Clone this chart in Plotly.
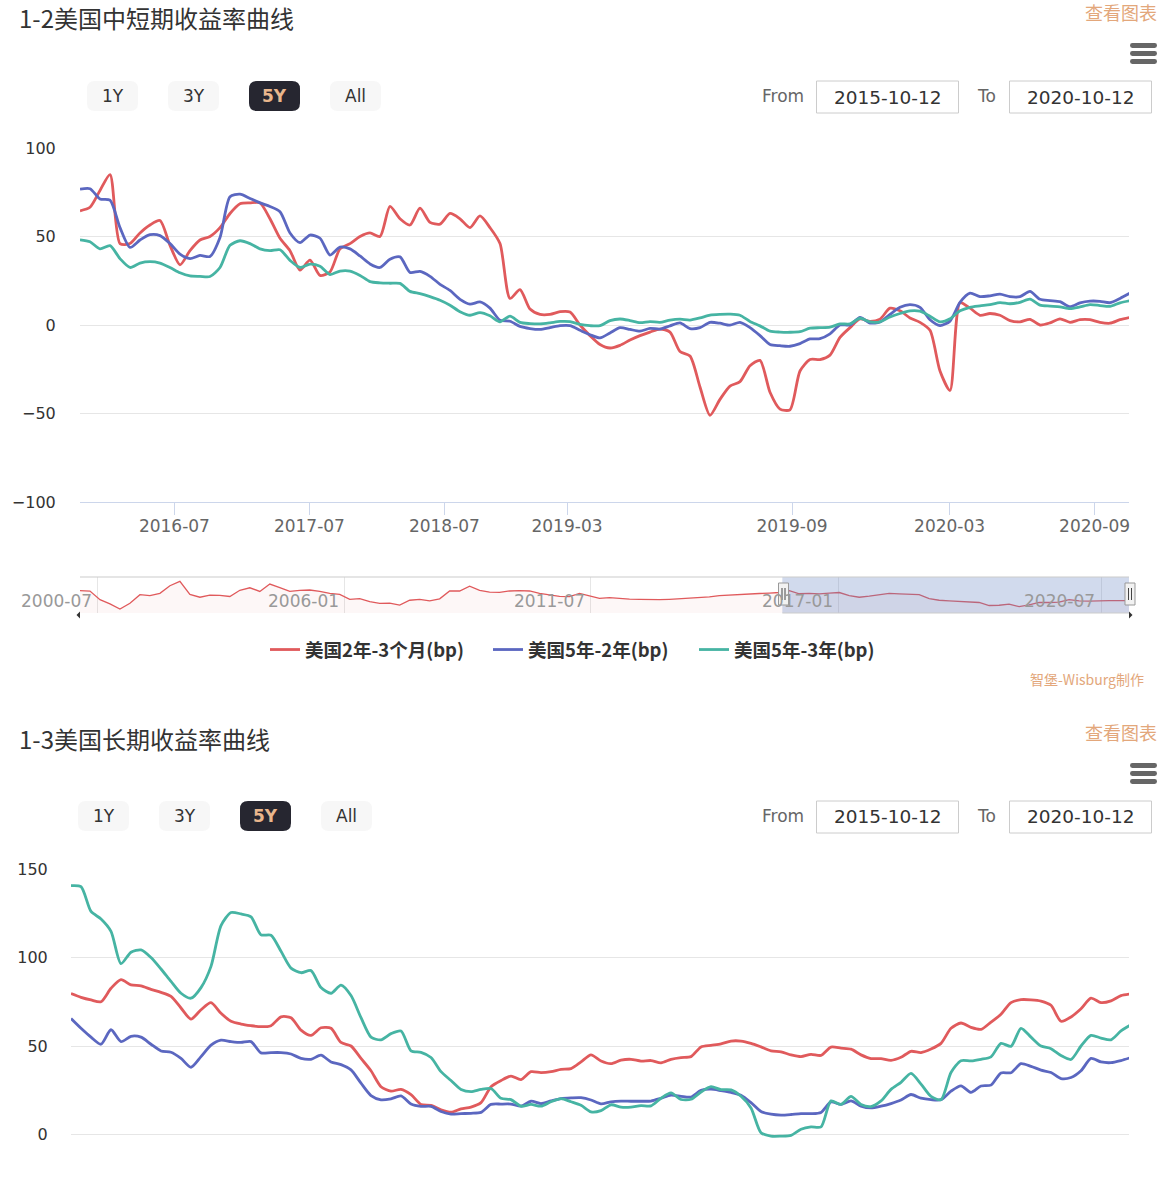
import plotly.graph_objects as go

W, H = 1164, 1177
FONT = "Noto Sans CJK SC, Noto Sans, sans-serif"
LFONT = "DejaVu Sans, Noto Sans, sans-serif"

# ---------------- data ----------------
series_names = ["美国2年-3个月(bp)", "美国5年-2年(bp)", "美国5年-3年(bp)"]
series_colors = ["#e05a5c", "#5b67c0", "#46b4a3"]

# chart 1 (ordinal samples, 2015-10-12 .. 2020-10-12)
c1_red = [64.5, 66.5, 76, 85, 46, 46, 52, 56.5, 59, 45,
          34, 42, 48, 50, 55, 63, 68.5, 69, 69, 60,
          49, 42, 31, 36.6, 28, 30, 43, 46, 50, 52,
          50, 67, 60, 56.5, 66, 58, 57, 63, 60, 55,
          61.6, 55, 46, 15, 20, 9, 6, 6, 7.5, 7.3,
          0, -6, -11, -13, -11.5, -8.5, -6, -4, -2.3, -4,
          -15, -17.5, -35, -51, -42, -34.5, -32, -23, -20, -38,
          -47.5, -47.9, -26, -19.5, -19.5, -17, -7, -1.5, 3.4, 2,
          3.3, 9.5, 8, 4, 1.5, -3, -26, -37, 12.6, 9.5,
          5.5, 6.5, 5.5, 2.5, 1.8, 3.2, 0, 1.2, 3.5, 1.5,
          3, 3, 1.5, 1, 3, 4.3]
c1_blue = [76.7, 77, 71.2, 70.5, 55, 43.8, 48, 51, 50.5, 46,
           40, 37.5, 39.3, 38.7, 49.4, 72.5, 73.9, 71.5, 69, 67,
           64, 52, 46.5, 50.8, 49, 39.5, 44, 43, 39, 34.5,
           32.5, 37.2, 38.5, 29.7, 30.3, 27.5, 23, 19.5, 14.5, 11.8,
           13, 9.5, 2.7, 2.1, -0.8, -2, -2.5, -1.5, -0.4, -0.4,
           -3, -5.5, -7.3, -4.5, -1.5, -2.5, -3.5, -1.9, -2.3, -0.5,
           1.2, -2, -1.5, 1.5, 1, -0.1, 1.5, -1.5, -6, -11,
           -11.7, -12, -10.5, -7.9, -7.7, -5, 0, 0, 4.3, 1.1,
           1.7, 6, 10, 11.5, 10, 3, -0.3, 2.2, 12.8, 18,
           16, 16.5, 17.4, 16, 16, 19, 14.5, 13.8, 13.2, 10.3,
           12.5, 13.5, 13.4, 12.6, 15, 18]
c1_teal = [48.1, 47, 43, 44.8, 37.5, 32.5, 35, 35.8, 35, 32.5,
           29.5, 27.7, 27.5, 27.4, 32.5, 45, 47.6, 46, 43, 42,
           42.5, 36.5, 32.5, 34.4, 33.2, 28.5, 30.5, 30.5, 28, 24.5,
           23.8, 23.6, 23.5, 19, 17.7, 16, 14, 11.2, 7.5, 5.5,
           7, 5.2, 1.8, 5, 1.5, 0.8, 0.6, 1.2, 2, 1.9,
           0.3, -0.4, -0.4, 2.5, 3.4, 2.5, 1.3, 1.9, 1.5, 2.8,
           3.3, 2.8, 4, 5.6, 6, 6.1, 5.5, 2, -0.5, -3.5,
           -4, -4.1, -3.8, -1.8, -1.5, -1.2, 0.6, 0.6, 3.8, 1.7,
           1.8, 4.5, 6.5, 8, 7.8, 5, 1.8, 3.5, 8, 10,
           10.8, 11.5, 12.6, 12, 12.8, 14.6, 11.2, 10.7, 10.3, 9.2,
           10.2, 11.5, 11, 10.5, 12.5, 13.7]
c1_tick_idx = [9.44, 22.94, 36.44, 48.7, 71.2, 86.96, 101.46]
c1_tick_text = ["2016-07", "2017-07", "2018-07", "2019-03", "2019-09", "2020-03", "2020-09"]
c1_yticks = [-100, -50, 0, 50, 100]

# navigator (full history of 美国2年-3个月)
nav_red = [77, 74, 12, -18, -55, -14, 48, 42, 58, 113,
           145, 50, 30, 45, 43, 35, 80, 98, 72, 125,
           100, 72, 80, 82, 72, 58, 50, 14, 20, -2,
           -14, -12, -27, 8, 15, 3, 18, 75, 75, 110,
           80, 67, 65, 75, 77, 75, 57, 44, 36, 34,
           57, 40, 22, 27, 19, 16, 14, 11, 12, 15,
           18, 22, 27, 32, 42, 47, 51, 54, 57, 60,
           64, 77, 55, 58, 54, 60, 64, 42, 30, 38,
           47, 58, 54, 50, 48, 20, 8, 3, -2, -6,
           -8, -30, -28, -20, -38, -25, -8, -8, -5, 12,
           3, 2, 5, 5, 5, 5]
nav_tick_idx = [1.8, 26.5, 51.1, 75.95, 102.2]
nav_tick_text = ["2000-07", "2006-01", "2011-07", "2017-01", "2020-07"]
nav_range = [-84, 176]
nav_selected = [70.3, 105]

# chart 2
c2_red = [79.6, 77.5, 76, 75, 82.6, 87.5, 84.5, 84, 82, 80.3,
          78, 71.5, 65.2, 70.5, 74.5, 68.5, 64, 62.4, 61.5, 60.9,
          61.5, 66.5, 66, 59, 56, 60.3, 60, 52, 50, 43,
          36, 27, 24.5, 25.5, 22.5, 17, 16.5, 14, 12.6, 14.5,
          15.5, 18, 27, 30.5, 33, 31, 35.5, 35, 35.5, 36.8,
          37.2, 41, 45, 41.5, 40, 42, 42.5, 41.5, 41.8, 40.5,
          42.5, 43.5, 44, 49.5, 50.4, 51.2, 52.8, 52.8, 51.5, 49.5,
          47.3, 46.7, 45, 44, 45.3, 44.7, 49.4, 48.8, 48.2, 45,
          42.9, 42.9, 41.9, 43.6, 47, 46.3, 48.3, 51.5, 60, 63,
          60.5, 59.4, 63.5, 68, 74.5, 76.2, 76.1, 75.4, 73, 64,
          66.4, 71, 77, 74.5, 75.5, 78.5, 79.5]
c2_blue = [65.5, 60, 55, 51, 59.2, 52.5, 55.5, 55, 51, 47.2,
           46.5, 43, 38, 44, 50.5, 53.3, 52.5, 52, 52.5, 46.1,
           46.3, 46.3, 45.5, 43, 42.5, 44.8, 41, 39.5, 36.5, 29,
           22, 19.6, 20.2, 21.8, 17.2, 15.9, 15.9, 13, 11.5, 11.8,
           12, 12.5, 17, 17.2, 17.2, 16, 18.8, 17.5, 19, 20.3,
           20.7, 20.8, 19.5, 17.3, 18.5, 18.9, 18.8, 18.8, 18.9, 20.5,
           22.2, 21.6, 21.2, 25, 25.6, 24.8, 23.8, 22.2, 18, 13,
           11.5, 11, 11.3, 11.8, 11.8, 12.5, 18.4, 17, 19, 16,
           15, 16, 17.5, 19.5, 22.6, 20.5, 19.7, 19.7, 24.5, 27.5,
           23.8, 27.4, 27.9, 34.8, 34.9, 40, 38.5, 36.4, 35, 31.6,
           32.2, 36, 43, 41, 40.6, 41.8, 43.5]
c2_teal = [140.6, 140, 126, 121.8, 114.8, 96.5, 103, 104.3, 100, 93.5,
           86.5, 79.8, 77, 83, 95, 118, 125.4, 124.6, 123, 112.8,
           112.6, 103.5, 94, 91.4, 92.6, 83, 79.8, 84.4, 78.5, 66,
           55, 53.5, 57, 58.5, 47.3, 46.4, 43.5, 35.5, 30.5, 25.5,
           24.2, 25.5, 26, 20.5, 19.7, 16, 17, 16, 18.5, 20.3,
           18.5, 16.5, 12.8, 13.5, 16.8, 15.5, 15.5, 16.3, 16.2, 20.5,
           23.5, 19.8, 19.9, 24, 27, 25.4, 25.2, 21.6, 15, 1,
           -0.9, -0.9, -0.5, 3, 4.3, 4.3, 19, 17, 21.5, 17,
           15.8, 19, 25.5, 29.5, 34.5, 28.5, 21.5, 19.7, 35, 41.7,
           41.6, 42.5, 43.9, 51.5, 49.8, 60, 55, 50, 48.5, 44.6,
           42.4, 50, 56, 54.5, 53.5, 58.5, 62]
c2_yticks = [0, 50, 100, 150]

range_buttons = ["1Y", "3Y", "5Y", "All"]
selected_button = "5Y"
date_from, date_to = "2015-10-12", "2020-10-12"
titles = ["1-2美国中短期收益率曲线", "1-3美国长期收益率曲线"]
link_text = "查看图表"
credit_text = "智堡-Wisburg制作"

# ---------------- helpers ----------------
def PX(x):
    return x / W


def PY(y):
    return 1 - y / H


def rrect(x0, y0, x1, y1, r):
    X, Y = PX, PY
    return (f"M {X(x0+r)},{Y(y0)} L {X(x1-r)},{Y(y0)} Q {X(x1)},{Y(y0)} {X(x1)},{Y(y0+r)} "
            f"L {X(x1)},{Y(y1-r)} Q {X(x1)},{Y(y1)} {X(x1-r)},{Y(y1)} L {X(x0+r)},{Y(y1)} "
            f"Q {X(x0)},{Y(y1)} {X(x0)},{Y(y1-r)} L {X(x0)},{Y(y0+r)} Q {X(x0)},{Y(y0)} {X(x0+r)},{Y(y0)} Z")


shapes = []
annotations = []


def text(x, y, s, size=17, color="#333333", xanchor="center", weight="normal", family=FONT):
    annotations.append(dict(x=PX(x), y=PY(y), xref="paper", yref="paper",
                            text=s, showarrow=False, xanchor=xanchor, yanchor="middle",
                            borderpad=0,
                            font=dict(family=family, size=size, color=color, weight=weight)))


def header(off, btn_x0, title):
    text(17.5, 18 + off, title, size=24, color="#333333", xanchor="left")
    text(1158, 12 + off, link_text, size=18, color="#e3a77b", xanchor="right")
    for cy in (45.5, 53.5, 61.5):
        shapes.append(dict(type="path", xref="paper", yref="paper",
                           path=rrect(1130, cy - 2.4 + off, 1157, cy + 2.4 + off, 2.3),
                           fillcolor="#666666", line=dict(width=0)))
    for i, lbl in enumerate(range_buttons):
        x0 = btn_x0 + i * 81
        sel = lbl == selected_button
        shapes.append(dict(type="path", xref="paper", yref="paper",
                           path=rrect(x0, 81 + off, x0 + 51, 111 + off, 8),
                           fillcolor="#262630" if sel else "#f7f7f7", line=dict(width=0)))
        text(x0 + 25.5, 96 + off, lbl, size=17, family=LFONT,
             color="#e9b68c" if sel else "#333333", weight="bold" if sel else "normal")
    text(783, 96 + off, "From", size=17, color="#666666", family=LFONT)
    text(986, 96 + off, "To", size=17, color="#666666", family=LFONT)
    for (bx0, bx1, s) in ((816.5, 958.5, date_from), (1009.5, 1151.5, date_to)):
        shapes.append(dict(type="rect", xref="paper", yref="paper",
                           x0=PX(bx0), x1=PX(bx1), y0=PY(113 + off), y1=PY(81 + off),
                           fillcolor="white", line=dict(color="#cccccc", width=1)))
        text((bx0 + bx1) / 2, 97 + off, s, size=18.5, color="#333333", family=LFONT)


header(0, 87, titles[0])
header(720, 78, titles[1])
text(1145, 679, credit_text, size=14, color="#e3a77b", xanchor="right")

# ---------------- traces ----------------
fig = go.Figure()
c1 = [c1_red, c1_blue, c1_teal]
c2 = [c2_red, c2_blue, c2_teal]
legend_ids = ["legend", "legend2", "legend3"]
for k in range(3):
    fig.add_trace(go.Scatter(x=list(range(len(c1[k]))), y=c1[k], name=series_names[k],
                             mode="lines", line=dict(color=series_colors[k], width=2.8,
                                                     shape="spline", smoothing=0.7),
                             xaxis="x", yaxis="y", legend=legend_ids[k], hoverinfo="skip"))
for k in range(3):
    fig.add_trace(go.Scatter(x=list(range(len(c2[k]))), y=c2[k], name=series_names[k],
                             mode="lines", line=dict(color=series_colors[k], width=2.8,
                                                     shape="spline", smoothing=0.7),
                             xaxis="x3", yaxis="y3", showlegend=False, hoverinfo="skip"))

nav_x = list(range(len(nav_red)))
fig.add_trace(go.Scatter(x=nav_x, y=[nav_range[0]] * len(nav_red), mode="lines",
                         line=dict(width=0), xaxis="x2", yaxis="y2", showlegend=False,
                         hoverinfo="skip"))
fig.add_trace(go.Scatter(x=nav_x, y=nav_red, mode="lines", fill="tonexty",
                         fillcolor="rgba(224,90,92,0.05)",
                         line=dict(color=series_colors[0], width=1.3),
                         xaxis="x2", yaxis="y2", showlegend=False, hoverinfo="skip"))

# navigator decorations
for i, lbl in enumerate(nav_tick_text):
    annotations.append(dict(x=nav_tick_idx[i], y=PY(601), xref="x2", yref="paper", text=lbl,
                            showarrow=False, xanchor="right", yanchor="middle", xshift=-4,
                            font=dict(family=LFONT, size=17, color="#999999")))
shapes.append(dict(type="rect", xref="x2", yref="y2 domain", x0=nav_selected[0], x1=nav_selected[1],
                   y0=0, y1=1, fillcolor="rgba(102,133,194,0.3)", line=dict(width=0), layer="above"))
shapes.append(dict(type="line", xref="x2 domain", yref="y2 domain", x0=0, x1=1, y0=1, y1=1,
                   line=dict(color="#cccccc", width=1.2)))
shapes.append(dict(type="line", xref="x2", yref="y2 domain", x0=nav_selected[0], x1=nav_selected[1],
                   y0=0, y1=0, line=dict(color="#cccccc", width=1.2)))
for hx in (783.5, 1130):
    shapes.append(dict(type="rect", xref="paper", yref="paper", x0=PX(hx - 5), x1=PX(hx + 5),
                       y0=PY(605), y1=PY(583), fillcolor="#f2f2f2",
                       line=dict(color="#999999", width=1)))
    for dx in (-1.5, 1.5):
        shapes.append(dict(type="line", xref="paper", yref="paper", x0=PX(hx + dx), x1=PX(hx + dx),
                           y0=PY(600), y1=PY(588), line=dict(color="#444444", width=1)))
shapes.append(dict(type="path", xref="paper", yref="paper",
                   path=f"M {PX(80)},{PY(611.5)} L {PX(80)},{PY(618.5)} L {PX(76.5)},{PY(615)} Z",
                   fillcolor="#333333", line=dict(width=0)))
shapes.append(dict(type="path", xref="paper", yref="paper",
                   path=f"M {PX(1129)},{PY(611.5)} L {PX(1129)},{PY(618.5)} L {PX(1132.5)},{PY(615)} Z",
                   fillcolor="#333333", line=dict(width=0)))

axis_font = dict(family=LFONT, size=16, color="#333333")
legend_common = dict(orientation="h", xanchor="left", yanchor="middle", y=PY(650),
                     bgcolor="rgba(0,0,0,0)", borderwidth=0, itemwidth=30,
                     font=dict(family=FONT, size=18.5, color="#333333", weight="bold"))

fig.update_layout(
    width=W, height=H, autosize=False,
    margin=dict(l=0, r=0, t=0, b=0, pad=0, autoexpand=False),
    paper_bgcolor="white", plot_bgcolor="white",
    showlegend=True,
    legend=dict(x=PX(265), **legend_common),
    legend2=dict(x=PX(488), **legend_common),
    legend3=dict(x=PX(694), **legend_common),
    xaxis=dict(domain=[PX(80), PX(1129)], anchor="y", range=[0, 104.9],
               tickvals=c1_tick_idx, ticktext=c1_tick_text, showgrid=False, zeroline=False,
               showline=True, linecolor="#ccd6eb", linewidth=1, ticks="outside", ticklen=12,
               tickcolor="#ccd6eb", tickfont=dict(family=LFONT, size=17, color="#666666"),
               ticklabelstandoff=-3, fixedrange=True),
    yaxis=dict(domain=[PY(502), PY(148)], anchor="x", range=[-100, 100], tickvals=c1_yticks,
               showgrid=True, gridcolor="#e6e6e6", gridwidth=1, zeroline=False, showline=False,
               ticks="outside", ticklen=20, tickcolor="rgba(0,0,0,0)", tickfont=axis_font,
               fixedrange=True),
    xaxis2=dict(domain=[PX(80), PX(1129)], anchor="y2", range=[0, 105], tickvals=nav_tick_idx,
                showticklabels=False, showgrid=True, gridcolor="#e6e6e6", zeroline=False,
                ticks="", fixedrange=True),
    yaxis2=dict(domain=[PY(613), PY(577)], anchor="x2", range=nav_range, visible=False,
                fixedrange=True),
    xaxis3=dict(domain=[PX(71), PX(1129)], anchor="y3", range=[0, 105.8], showgrid=False,
                zeroline=False, showticklabels=False, ticks="", fixedrange=True),
    yaxis3=dict(domain=[0, PY(869)], anchor="x3", range=[-24, 150], tickvals=c2_yticks,
                showgrid=True, gridcolor="#e6e6e6", zeroline=False, ticks="outside", ticklen=19,
                tickcolor="rgba(0,0,0,0)", tickfont=axis_font, fixedrange=True),
    shapes=shapes, annotations=annotations,
)

fig.write_html("out.html", config={"displayModeBar": False})
